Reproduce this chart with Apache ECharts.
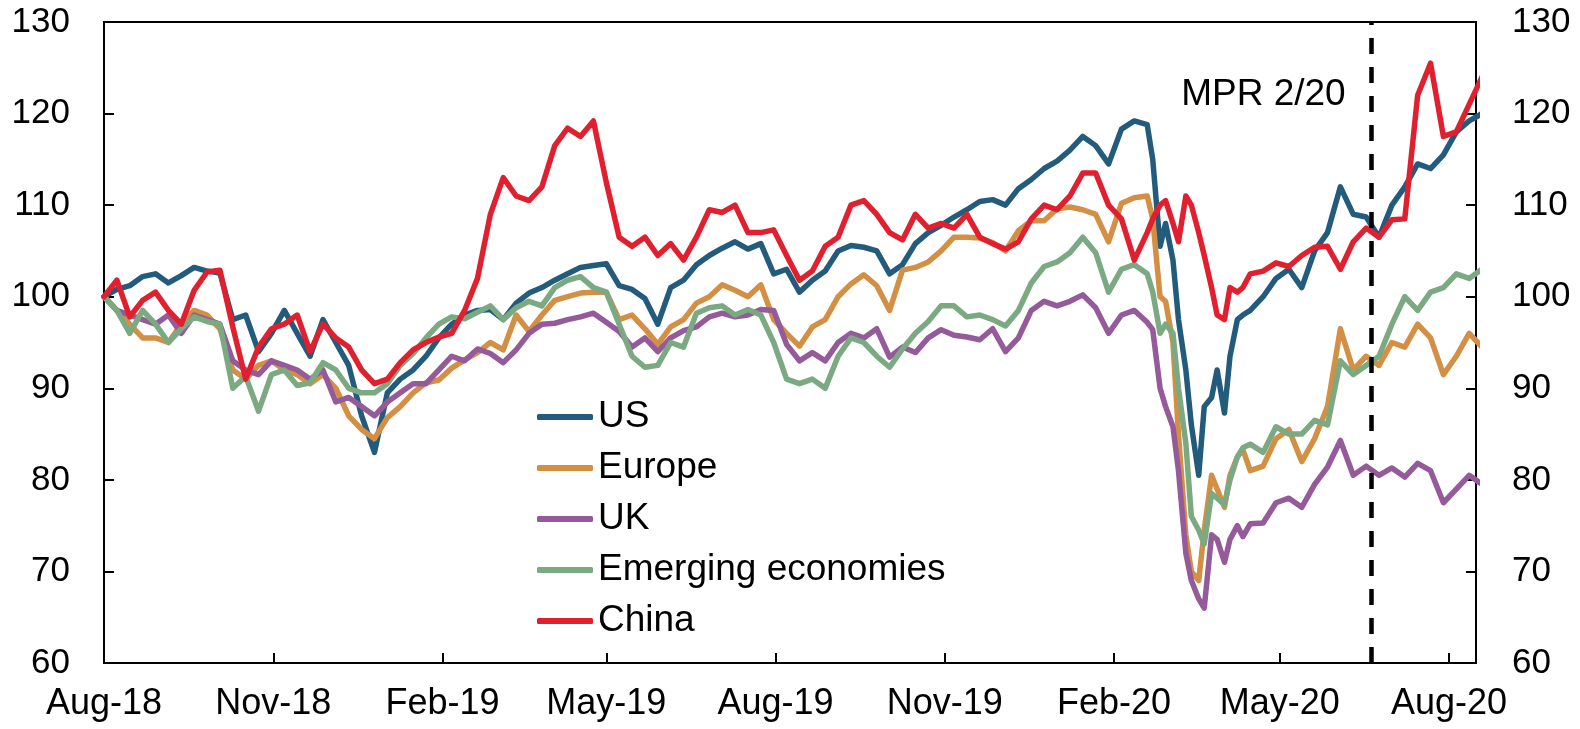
<!DOCTYPE html>
<html>
<head>
    <meta charset="utf-8">
    <title>Equity indices</title>
    <script src="https://cdn.jsdelivr.net/npm/echarts@6/dist/echarts.min.js"></script>
    <style>
        html, body { margin: 0; padding: 0; background: #fff; }
        #main { width: 1580px; height: 729px; }
    </style>
</head>
<body>
<div id="main"></div>
<script>
    // weekly observations, denser around the March 2020 sell-off
    var dates = [
        '2018-08-01', '2018-08-08', '2018-08-15', '2018-08-22', '2018-08-29', '2018-09-05', '2018-09-12', '2018-09-19', '2018-09-26', '2018-10-03',
        '2018-10-10', '2018-10-17', '2018-10-24', '2018-10-31', '2018-11-07', '2018-11-14', '2018-11-21', '2018-11-28', '2018-12-05', '2018-12-12',
        '2018-12-19', '2018-12-26', '2019-01-02', '2019-01-09', '2019-01-16', '2019-01-23', '2019-01-30', '2019-02-06', '2019-02-13', '2019-02-20',
        '2019-02-27', '2019-03-06', '2019-03-13', '2019-03-20', '2019-03-27', '2019-04-03', '2019-04-10', '2019-04-17', '2019-04-24', '2019-05-01',
        '2019-05-08', '2019-05-15', '2019-05-22', '2019-05-29', '2019-06-05', '2019-06-12', '2019-06-19', '2019-06-26', '2019-07-03', '2019-07-10',
        '2019-07-17', '2019-07-24', '2019-07-31', '2019-08-07', '2019-08-14', '2019-08-21', '2019-08-28', '2019-09-04', '2019-09-11', '2019-09-18',
        '2019-09-25', '2019-10-02', '2019-10-09', '2019-10-16', '2019-10-23', '2019-10-30', '2019-11-06', '2019-11-13', '2019-11-20', '2019-11-27',
        '2019-12-04', '2019-12-11', '2019-12-18', '2019-12-25', '2020-01-01', '2020-01-08', '2020-01-15', '2020-01-22', '2020-01-29', '2020-02-05',
        '2020-02-12',
        '2020-02-19', '2020-02-22', '2020-02-26', '2020-02-29', '2020-03-04', '2020-03-07', '2020-03-11', '2020-03-14', '2020-03-18', '2020-03-21',
        '2020-03-25', '2020-03-28', '2020-04-01', '2020-04-04', '2020-04-08', '2020-04-11', '2020-04-15',
        '2020-04-22', '2020-04-29', '2020-05-06', '2020-05-13', '2020-05-20', '2020-05-27', '2020-06-03', '2020-06-10', '2020-06-17', '2020-06-24',
        '2020-07-01', '2020-07-08', '2020-07-15', '2020-07-22', '2020-07-29', '2020-08-05', '2020-08-12', '2020-08-19'
    ];

    var us = [
        100, 100.8, 101.2, 102.2, 102.5, 101.5, 102.3, 103.2, 102.8, 102.6,
        97.5, 98.0, 94.0, 96.0, 98.5, 96.0, 93.5, 97.5, 95.0, 92.5,
        87.0, 83.0, 89.5, 91.0, 92.0, 93.5, 95.5, 97.0, 98.0, 98.5,
        98.6, 97.5, 99.3, 100.4, 101.0, 101.8, 102.5, 103.2, 103.4, 103.6,
        101.2, 100.8, 99.8, 97.0, 101.0, 101.8, 103.5, 104.5, 105.3, 106.0,
        105.2, 105.8, 102.5, 103.0, 100.5, 101.8, 102.8, 105.0, 105.6, 105.4,
        105.0, 102.5, 103.5, 105.8, 107.0, 107.8, 108.7, 109.5, 110.4, 110.6,
        110.0, 111.8, 112.8, 114.0, 114.8, 116.0, 117.5, 116.5, 114.5, 118.3,
        119.2,
        118.8, 115.0, 105.5, 108.0, 104.0, 97.5, 92.0, 86.0, 80.5, 88.0,
        89.0, 92.0, 87.3, 93.5, 97.5, 98.0, 98.5,
        100.0, 102.0, 103.0, 101.0, 105.0, 107.0, 112.0, 109.0, 108.7, 106.5,
        110.0, 112.0, 114.5, 114.0, 115.5, 118.0, 119.2, 120.0
    ];

    var europe = [
        100, 98.5, 97.0, 95.5, 95.5, 95.0, 97.0, 98.5, 98.0, 96.5,
        92.0, 91.0, 92.5, 93.0, 92.0, 91.5, 90.5, 91.5, 90.0, 87.0,
        85.5, 84.5, 86.8, 88.0, 89.5, 90.6, 90.9, 92.2, 93.1, 93.9,
        95.0, 94.2, 98.0, 96.2, 98.0, 99.6, 100.0, 100.4, 100.5, 100.5,
        97.5, 98.0, 96.5, 94.8, 96.7, 97.5, 99.3, 100.0, 101.3, 100.7,
        100.0, 101.3, 97.5, 96.0, 94.6, 96.7, 97.5, 100.0, 101.4, 102.4,
        101.2, 98.5, 102.9, 103.2, 103.8, 105.0, 106.5, 106.5, 106.4, 105.9,
        105.0, 107.2, 108.3, 108.3, 109.6, 109.8, 109.5, 109.0, 106.0, 110.2,
        110.8,
        111.0, 108.5, 100.0, 99.5, 95.0, 85.0, 74.0, 70.0, 69.0, 74.5,
        80.5, 79.0, 77.0, 80.5, 82.5, 83.3, 81.0,
        81.5, 84.5, 85.5, 82.0, 84.5, 88.0, 96.5, 92.0, 93.5, 92.5,
        95.0, 94.5, 97.0, 95.5, 91.5, 93.5, 96.0, 94.5
    ];

    var uk = [
        100, 98.5, 98.0, 97.5, 97.0, 98.0, 96.0, 98.0, 97.5, 97.0,
        93.0, 92.0, 91.5, 93.0, 92.5, 92.0, 91.0, 92.0, 88.5, 89.0,
        88.0, 87.0, 88.5, 89.5, 90.5, 90.5, 92.0, 93.5, 93.0, 94.3,
        93.8, 92.8, 94.2, 96.0, 97.0, 97.1, 97.5, 97.8, 98.2, 97.2,
        96.2, 94.5, 95.5, 94.0, 95.5, 96.3, 96.7, 97.8, 98.2, 97.8,
        98.0, 98.6, 98.5, 94.8, 93.0, 93.9, 93.0, 95.0, 96.0, 95.5,
        96.5, 93.4, 94.5, 93.9, 95.5, 96.4, 95.8, 95.6, 95.3, 96.5,
        94.0, 95.5, 98.5, 99.5, 99.0, 99.5, 100.2, 98.8, 96.0, 98.0,
        98.5,
        97.2, 96.4, 90.0, 88.0, 85.8, 81.0, 72.0, 69.0, 67.0, 66.0,
        74.0, 73.5, 71.0, 73.5, 75.0, 73.8, 75.2,
        75.3, 77.5, 78.0, 77.0, 79.5, 81.4, 84.3, 80.5, 81.5, 80.5,
        81.3, 80.3, 81.8, 81.0, 77.5, 79.0, 80.5, 79.5
    ];

    var emerging = [
        100, 98.5, 96.0, 98.5, 97.0, 95.0, 96.5, 97.8, 97.3, 97.0,
        90.0, 91.3, 87.5, 91.5, 92.0, 90.3, 90.6, 92.8, 92.0, 90.0,
        89.5, 89.5, 90.5, 92.5, 93.8, 95.5, 97.0, 97.8, 97.6, 98.3,
        99.0, 97.5, 98.8, 99.5, 99.0, 101.0, 101.8, 102.2, 101.0, 100.5,
        97.0, 93.5, 92.3, 92.5, 95.0, 94.5, 98.2, 98.8, 99.0, 98.0,
        98.6, 98.0, 95.0, 91.0, 90.5, 91.0, 90.0, 93.5, 95.5, 95.0,
        93.5, 92.3, 94.3, 96.0, 97.3, 99.0, 99.0, 97.8, 98.0, 97.5,
        96.8, 98.5, 101.5, 103.3, 103.8, 104.8, 106.5, 104.8, 100.5, 103.0,
        103.5,
        102.5, 100.5, 96.0, 97.0, 96.0, 90.0, 84.0, 76.0, 74.5, 73.0,
        78.5, 78.0, 77.3, 80.0, 82.5, 83.5, 83.9,
        83.0, 85.8, 85.0, 85.0, 86.5, 86.0, 93.0, 91.5, 92.5, 93.5,
        97.0, 100.0, 98.5, 100.5, 101.0, 102.5, 102.0, 103.0
    ];

    var china = [
        100, 101.8, 97.8, 99.6, 100.5, 98.5, 97.0, 100.7, 102.7, 102.9,
        96.7, 91.0, 94.5, 96.5, 97.0, 98.0, 94.0, 97.0, 95.5, 94.5,
        92.0, 90.5, 91.0, 92.8, 94.2, 95.0, 95.6, 96.0, 98.5, 102.0,
        109.0, 113.0, 111.0, 110.5, 112.0, 116.5, 118.4, 117.5, 119.2, 112.5,
        106.5, 105.5, 106.5, 104.5, 105.8, 104.0, 106.5, 109.5, 109.2, 110.0,
        107.0, 107.0, 107.3, 104.5, 101.8, 102.8, 105.5, 106.5, 110.0, 110.5,
        109.0, 107.0, 106.2, 109.0, 107.5, 108.0, 107.5, 109.0, 106.5, 105.8,
        105.2, 106.0, 108.5, 110.0, 109.5, 111.0, 113.5, 113.5, 110.0, 108.5,
        104.0,
        107.0, 108.5, 110.0, 110.5, 108.0, 106.0, 111.0, 110.0, 107.0, 104.5,
        101.0, 98.0, 97.5, 101.0, 100.5, 101.0, 102.5,
        102.8, 103.7, 103.3, 104.5, 105.4, 105.5, 103.0, 106.0, 107.5, 106.5,
        108.4, 108.5, 122.0, 125.5, 117.5, 118.0, 121.0, 124.0
    ];

    var names = ['US', 'Europe', 'UK', 'Emerging economies', 'China'];
    var colors = ['#235b7c', '#d38f43', '#955a99', '#7aa982', '#e1202f'];
    var tickMonths = ['2018-08-01', '2018-11-01', '2019-02-01', '2019-05-01', '2019-08-01',
        '2019-11-01', '2020-02-01', '2020-05-01', '2020-08-01'];
    var mprDate = '2020-06-20';

    function t(s) {
        return new Date(s + 'T00:00:00').getTime();
    }

    var monthNames = ['Jan', 'Feb', 'Mar', 'Apr', 'May', 'Jun', 'Jul', 'Aug', 'Sep', 'Oct', 'Nov', 'Dec'];
    var font = '"Liberation Sans", Arial, sans-serif';
    var ticks = tickMonths.map(t);

    var chart = echarts.init(document.getElementById('main'));

    var series = [us, europe, uk, emerging, china].map(function (vals, i) {
        return {
            name: names[i],
            type: 'line',
            symbol: 'none',
            showSymbol: false,
            color: colors[i],
            lineStyle: {width: 5.5, color: colors[i], join: 'round', cap: 'round'},
            emphasis: {disabled: true},
            data: dates.map(function (d, j) {
                return [t(d), vals[j]];
            })
        };
    });

    // dashed vertical line for the report date, drawn on top
    series[4].markLine = {
        silent: true,
        symbol: ['none', 'none'],
        label: {show: false},
        lineStyle: {color: '#000', width: 4.5, type: [16, 13]},
        data: [{xAxis: t(mprDate)}]
    };

    var yAxisBase = function (pos, margin) {
        return {
            type: 'value',
            position: pos,
            min: 60,
            max: 130,
            interval: 10,
            splitLine: {show: false},
            axisLine: {show: true, lineStyle: {color: '#000', width: 2}},
            axisTick: {show: true, inside: true, length: 10, lineStyle: {color: '#000', width: 2}},
            axisLabel: {color: '#000', fontSize: 35, fontFamily: font, margin: margin}
        };
    };

    chart.setOption({
        animation: false,
        grid: {
            left: 104, right: 104, top: 22, bottom: 66,
            show: true, borderColor: '#000', borderWidth: 2,
            outerBoundsMode: 'none'
        },
        legend: {
            orient: 'vertical',
            left: 532,
            top: 391,
            itemWidth: 56,
            itemHeight: 6,
            itemGap: 9,
            icon: 'roundRect',
            itemStyle: {borderWidth: 0},
            textStyle: {fontSize: 37, fontFamily: font, color: '#000', lineHeight: 42},
            data: names
        },
        xAxis: {
            type: 'value',
            min: t('2018-08-01'),
            max: t('2020-08-15') + 17 * 3600 * 1000,
            splitLine: {show: false},
            axisLine: {show: true, lineStyle: {color: '#000', width: 2}},
            axisTick: {show: true, inside: true, length: 10, customValues: ticks,
                lineStyle: {color: '#000', width: 2}},
            axisLabel: {
                customValues: ticks,
                color: '#000', fontSize: 36, fontFamily: font, margin: 23,
                showMinLabel: true, showMaxLabel: true,
                formatter: function (v) {
                    var d = new Date(v);
                    return monthNames[d.getMonth()] + '-' + String(d.getFullYear()).slice(2);
                }
            }
        },
        yAxis: [yAxisBase('left', 34), yAxisBase('right', 36)],
        series: series
    });

    var mprX = chart.convertToPixel({xAxisIndex: 0}, t(mprDate));
    chart.setOption({
        graphic: [{
            type: 'text',
            x: mprX - 26,
            y: 95,
            style: {
                text: 'MPR 2/20',
                fill: '#000',
                font: '37px ' + font,
                textAlign: 'right',
                textVerticalAlign: 'middle'
            }
        }]
    });
</script>
</body>
</html>
